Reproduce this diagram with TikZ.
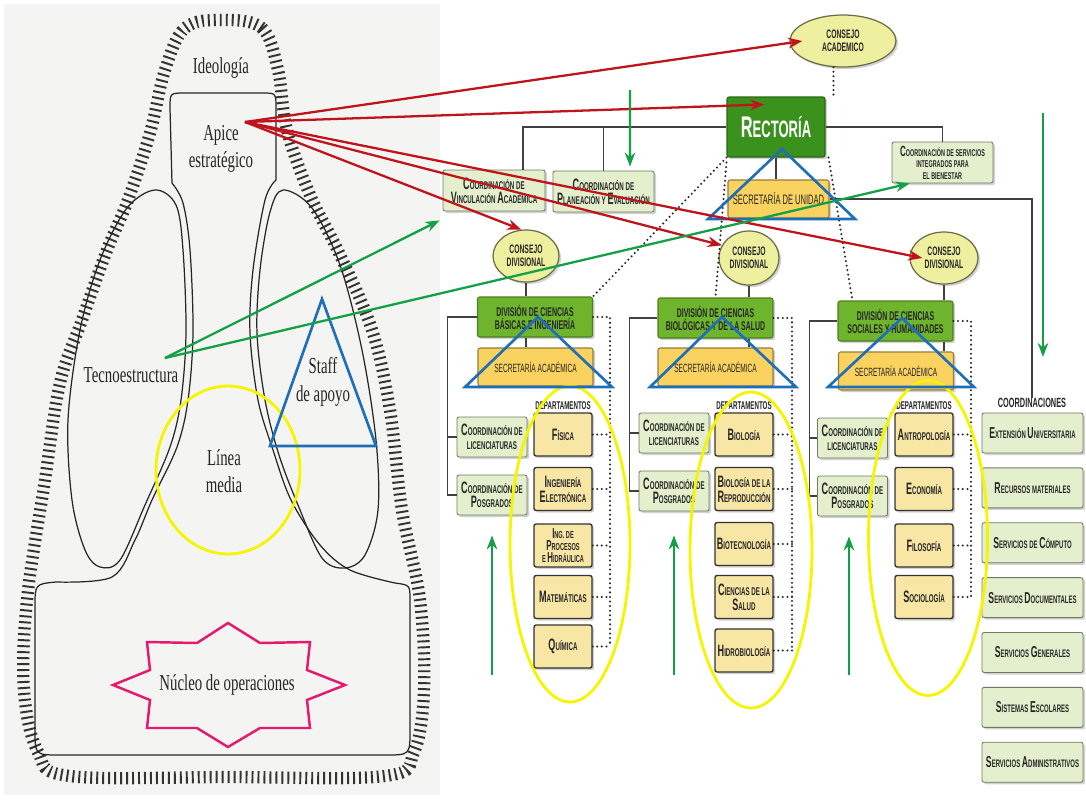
\documentclass[tikz,border=0pt]{standalone}
\usepackage{fontspec}
\usepackage{tikz}
\usetikzlibrary{shapes.geometric, arrows.meta, positioning, calc, shadows}
\newfontfamily\mintz[FakeStretch=0.65]{Liberation Serif}
\newfontfamily\orgfont[FakeStretch=0.55]{Liberation Sans}
\definecolor{rectVerde}{RGB}{58,146,28}
\definecolor{divVerde}{RGB}{110,180,45}
\definecolor{secOro}{RGB}{250,210,95}
\definecolor{coordPalido}{RGB}{228,240,205}
\definecolor{deptCrema}{RGB}{248,230,165}
\definecolor{consejoAm}{RGB}{238,240,160}
\definecolor{flechaRoja}{RGB}{192,20,28}
\definecolor{flechaVerde}{RGB}{20,160,70}
\definecolor{azulTri}{RGB}{30,110,185}
\definecolor{amarilloOv}{RGB}{245,245,0}
\definecolor{rosaEstrella}{RGB}{230,25,110}
\definecolor{fondoEscaneo}{RGB}{244,244,242}
\newcommand{\inicial}[2][9.4]{{\fontsize{#1}{#1}\selectfont #2}}

\begin{document}
\begin{tikzpicture}[x=0.02cm, y=-0.02cm,
        mline/.style={draw=black!85, line width=0.7pt},
        hatch/.style={draw=black!80, line width=7pt, dash pattern=on 1.1pt off 2.3pt},
        mtext/.style={font=\mintz\fontsize{13}{15.5}\selectfont, text=black!85, align=center, inner sep=0pt},
        orgbox/.style={rectangle, rounded corners=1.2pt, align=center, inner sep=0.5pt, text=black!85,
            drop shadow={shadow xshift=1.2pt, shadow yshift=-1.2pt, opacity=0.35},
            font=\orgfont\bfseries\fontsize{6.4}{7.8}\selectfont},
        verdebox/.style={orgbox, fill=divVerde, draw=divVerde!70!black, line width=0.6pt, minimum width=2.3cm, minimum height=0.8cm,
            font=\orgfont\bfseries\fontsize{7.2}{7.4}\selectfont},
        orobox/.style={orgbox, fill=secOro, draw=secOro!60!black, line width=0.6pt, minimum width=2.3cm, minimum height=0.76cm,
            font=\orgfont\fontsize{6.8}{7}\selectfont},
        palebox/.style={orgbox, fill=coordPalido, draw=coordPalido!50!black, line width=0.5pt},
        coordbox/.style={palebox, minimum width=1.4cm, minimum height=0.8cm},
        servbox/.style={palebox, minimum width=2.02cm, minimum height=0.8cm, font=\orgfont\bfseries\fontsize{6.2}{7}\selectfont},
        depbox/.style={orgbox, fill=deptCrema, draw=black!80, line width=0.8pt, minimum width=1.16cm, minimum height=0.86cm,
            font=\orgfont\bfseries\fontsize{6.4}{8.4}\selectfont},
        consejo/.style={ellipse, fill=consejoAm, draw=consejoAm!45!black, line width=0.7pt, align=center, inner sep=0pt, text=black!85,
            drop shadow={shadow xshift=1.2pt, shadow yshift=-1.2pt, opacity=0.35},
            font=\orgfont\bfseries\fontsize{7}{7.6}\selectfont},
        etiqueta/.style={font=\orgfont\bfseries\fontsize{6.4}{6.4}\selectfont, text=black!85, inner sep=0pt},
        enlace/.style={draw=black!75, line width=0.6pt},
        punteado/.style={draw=black!85, line width=1.3pt, line cap=round, dash pattern=on 0pt off 2.6pt},
        rojo/.style={draw=flechaRoja, line width=1.3pt, -{Stealth[length=8pt, width=6pt]}},
        verde/.style={draw=flechaVerde, line width=1.3pt, -{Stealth[length=8pt, width=6pt]}},
        triangulo/.style={draw=azulTri, line width=1.5pt, line join=miter},
        ovalo/.style={draw=amarilloOv, line width=1.6pt}]
    \useasboundingbox (0,0) rectangle (1086,799);
    \fill[white] (0,0) rectangle (1086,799);
    \fill[fondoEscaneo] (4,4) rectangle (440,795);

    % Mintzberg: the five parts
    \draw[hatch] plot[smooth cycle, tension=0.6] coordinates {(222,20) (262,28) (278,70) (287,130) (310,195) (340,255)
        (372,330) (390,410) (402,510) (420,600) (424,690) (414,752) (385,776) (228,777) (70,776) (38,752) (24,690)
        (27,600) (45,480) (60,383) (82,320) (107,250) (128,200) (150,133) (165,70) (185,28)};
    \draw[mline] plot[smooth, tension=0.55] coordinates {(56,582) (112,577) (135,540) (152,500) (177,447) (188,400)
            (193,333) (190,250) (183,203) (172,183)}
        -- (170,108) .. controls (170,93) .. (185,93) -- (262,93) .. controls (276,93) .. (276,108) -- (276,180)
        -- plot[smooth, tension=0.55] coordinates {(276,180) (265,200) (253,270) (250,333) (258,400) (273,450)
            (291,500) (320,545) (350,570) (395,583)}
        .. controls (410,585) .. (410,600) -- (410,730) .. controls (410,755) .. (385,755) -- (60,755)
        .. controls (35,755) .. (35,730) -- (35,607) .. controls (35,584) .. (56,582) -- cycle;
    \draw[mline] plot[smooth cycle, tension=0.55] coordinates {(155,190) (127,208) (100,260) (80,330) (68,420)
        (72,500) (85,550) (100,567) (120,560) (145,505) (170,447) (181,400) (186,333) (183,250) (176,205)};
    \draw[mline] plot[smooth cycle, tension=0.55] coordinates {(283,190) (312,208) (340,265) (362,350) (376,440)
        (378,510) (365,555) (345,568) (322,558) (298,505) (279,455) (265,400) (257,333) (260,270) (270,212)};
    \draw[draw=rosaEstrella, line width=1.4pt] (228,623) -- (260,643) -- (310,642) -- (307,670) -- (345,685)
        -- (307,700) -- (310,728) -- (260,728) -- (228,747) -- (197,728) -- (147,728) -- (150,700)
        -- (113,685) -- (150,670) -- (147,642) -- (197,643) -- cycle;

    \node[mtext] (ideo) at (221,68) {Ideología};
    \node[mtext] (apex) at (221,149) {Apice\\estratégico};
    \node[mtext] (tec) at (131,375) {Tecnoestructura};
    \node[mtext] (staff) at (323,382) {Staff\\de apoyo};
    \node[mtext] (linea) at (224,471) {Línea\\media};
    \node[mtext] (nucleo) at (227,685) {Núcleo de operaciones};

    % organigrama
    \node[consejo, minimum width=2.12cm, minimum height=1.04cm] (ca) at (843,41) {CONSEJO\\ACADEMICO};
    \node[orgbox, fill=rectVerde, draw=rectVerde!70!black, line width=0.6pt, minimum width=1.96cm, minimum height=1.2cm,
        text=white, font=\orgfont\bfseries\fontsize{13.5}{14}\selectfont] (rect) at (776,127) {\inicial[17]{R}ECTORÍA};
    \node[orobox, minimum width=2.02cm, font=\orgfont\fontsize{7.8}{8}\selectfont] (su) at (778.5,199) {SECRETARÍA DE UNIDAD};
    \node[palebox, minimum width=2.02cm, minimum height=0.82cm, font=\orgfont\bfseries\fontsize{5.6}{6.6}\selectfont]
        (bien) at (942.5,162.5) {\inicial[8.4]{C}OORDINACIÓN DE SERVICIOS\\INTEGRADOS PARA\\EL BIENESTAR};
    \node[palebox, minimum width=2.04cm, minimum height=0.82cm] (vinc) at (494,190.5)
        {\inicial{C}OORDINACIÓN DE\\\inicial{V}INCULACIÓN \inicial{A}CADÉMICA};
    \node[palebox, minimum width=2.02cm, minimum height=0.82cm] (plan) at (603.5,191.5)
        {\inicial{C}OORDINACIÓN DE\\\inicial{P}LANEACIÓN Y \inicial{E}VALUACIÓN};

    \node[consejo, minimum width=1.32cm, minimum height=1.04cm] (cd1) at (526,256) {CONSEJO\\DIVISIONAL};
    \node[consejo, minimum width=1.2cm, minimum height=1.08cm] (cd2) at (749,258) {CONSEJO\\DIVISIONAL};
    \node[consejo, minimum width=1.36cm, minimum height=1.04cm] (cd3) at (944,258) {CONSEJO\\DIVISIONAL};

    \node[verdebox] (div1) at (535,317) {DIVISIÓN DE CIENCIAS\\BÁSICAS E INGENIERÍA};
    \node[verdebox] (div2) at (715.5,318) {DIVISIÓN DE CIENCIAS\\BIOLÓGICAS Y DE LA SALUD};
    \node[verdebox] (div3) at (895.5,321) {DIVISIÓN DE CIENCIAS\\SOCIALES Y HUMANIDADES};
    \node[orobox] (sa1) at (535.5,367) {SECRETARÍA ACADÉMICA};
    \node[orobox] (sa2) at (715.5,367) {SECRETARÍA ACADÉMICA};
    \node[orobox] (sa3) at (896,371) {SECRETARÍA ACADÉMICA};

    \node[coordbox] (lic1) at (492,437) {\inicial{C}OORDINACIÓN DE\\LICENCIATURAS};
    \node[coordbox] (pos1) at (492,495) {\inicial{C}OORDINACIÓN DE\\\inicial{P}OSGRADOS};
    \node[coordbox] (lic2) at (674,433) {\inicial{C}OORDINACIÓN DE\\LICENCIATURAS};
    \node[coordbox] (pos2) at (674,491) {\inicial{C}OORDINACIÓN DE\\\inicial{P}OSGRADOS};
    \node[coordbox] (lic3) at (852.5,438) {\inicial{C}OORDINACIÓN DE\\LICENCIATURAS};
    \node[coordbox] (pos3) at (852.5,496) {\inicial{C}OORDINACIÓN DE\\\inicial{P}OSGRADOS};

    \node[etiqueta] (dl1) at (563,406) {DEPARTAMENTOS};
    \node[etiqueta] (dl2) at (744,406) {DEPARTAMENTOS};
    \node[etiqueta] (dl3) at (924,406) {DEPARTAMENTOS};
    \node[depbox] (fis) at (563,434.5) {\inicial{F}ÍSICA};
    \node[depbox] (ing) at (563,489) {\inicial{I}NGENIERÍA\\\inicial{E}LECTRÓNICA};
    \node[depbox, font=\orgfont\bfseries\fontsize{5.8}{6.9}\selectfont] (proc) at (563,545.5)
        {\inicial[8.2]{I}NG. DE\\\inicial[8.2]{P}ROCESOS\\E \inicial[8.2]{H}IDRÁULICA};
    \node[depbox] (mat) at (563,597) {\inicial{M}ATEMÁTICAS};
    \node[depbox] (qui) at (563,646.5) {\inicial{Q}UÍMICA};
    \node[depbox] (bio) at (744,434.5) {\inicial{B}IOLOGÍA};
    \node[depbox] (rep) at (744,489) {\inicial{B}IOLOGÍA DE LA\\\inicial{R}EPRODUCCIÓN};
    \node[depbox] (biot) at (744,544) {\inicial{B}IOTECNOLOGÍA};
    \node[depbox] (salud) at (744,597) {\inicial{C}IENCIAS DE LA\\\inicial{S}ALUD};
    \node[depbox] (hidro) at (744,650.5) {\inicial{H}IDROBIOLOGÍA};
    \node[depbox] (antro) at (924,434.5) {\inicial{A}NTROPOLOGÍA};
    \node[depbox] (eco) at (924,489) {\inicial{E}CONOMÍA};
    \node[depbox] (filo) at (924,545.5) {\inicial{F}ILOSOFÍA};
    \node[depbox] (socio) at (924,597) {\inicial{S}OCIOLOGÍA};

    \node[etiqueta, font=\orgfont\bfseries\fontsize{7.6}{7.6}\selectfont] (clab) at (1032,403) {COORDINACIONES};
    \node[servbox] (ext) at (1032.5,433) {\inicial[9]{E}XTENSIÓN \inicial[9]{U}NIVERSITARIA};
    \node[servbox, below=0.28cm of ext] (recm) {\inicial[9]{R}ECURSOS MATERIALES};
    \node[servbox, below=0.28cm of recm] (comp) {\inicial[9]{S}ERVICIOS DE \inicial[9]{C}ÓMPUTO};
    \node[servbox, below=0.28cm of comp] (docu) {\inicial[9]{S}ERVICIOS \inicial[9]{D}OCUMENTALES};
    \node[servbox, below=0.28cm of docu] (gene) {\inicial[9]{S}ERVICIOS \inicial[9]{G}ENERALES};
    \node[servbox, below=0.28cm of gene] (esco) {\inicial[9]{S}ISTEMAS \inicial[9]{E}SCOLARES};
    \node[servbox, below=0.28cm of esco] (admi) {\inicial[9]{S}ERVICIOS \inicial[9]{A}DMINISTRATIVOS};

    % lineas del organigrama
    \draw[enlace] (rect.west) -| ([xshift=0.58cm]vinc.north);
    \draw[enlace] (plan.north) |- (rect.west);
    \draw[enlace] (rect.east) -| (bien.north);
    \draw[enlace] (rect.south) -- (rect.south |- su.north);
    \draw[enlace] (su.east) -| (clab.north);
    \draw[enlace] (cd1.south) -- (cd1.south |- div1.north);
    \draw[enlace] (cd1.south |- div1.south) -- (cd1.south |- sa1.north);
    \draw[enlace] (cd2.south) -- (cd2.south |- div2.north);
    \draw[enlace] (cd2.south |- div2.south) -- (cd2.south |- sa2.north);
    \draw[enlace] (cd3.south) -- (cd3.south |- div3.north);
    \draw[enlace] (cd3.south |- div3.south) -- (cd3.south |- sa3.north);
    \draw[enlace] (div1.west) -| ([xshift=-0.18cm]pos1.west) -- (pos1.west);
    \draw[enlace] ([xshift=-0.18cm]lic1.west) -- (lic1.west);
    \draw[enlace] (div2.west) -| ([xshift=-0.18cm]pos2.west) -- (pos2.west);
    \draw[enlace] ([xshift=-0.18cm]lic2.west) -- (lic2.west);
    \draw[enlace] (div3.west) -| ([xshift=-0.16cm]pos3.west) -- (pos3.west);
    \draw[enlace] ([xshift=-0.16cm]lic3.west) -- (lic3.west);

    % lineas punteadas
    \coordinate (pt1) at (610,0);
    \coordinate (pt2) at (792,0);
    \coordinate (pt3) at (971,0);
    \draw[punteado] (ca.250) -- (ca.250 |- rect.north);
    \draw[punteado] (rect.south west) -- (div1.north east);
    \draw[punteado] ([yshift=-0.1cm]rect.south west) -- (div2.north);
    \draw[punteado] ([xshift=0.06cm]rect.south east) -- ([xshift=0.3cm]div3.north west);
    \draw[punteado] (div1.east) -- (div1.east -| pt1) -- (qui.east -| pt1);
    \draw[punteado] (fis.east) -- (fis.east -| pt1);
    \draw[punteado] (ing.east) -- (ing.east -| pt1);
    \draw[punteado] (proc.east) -- (proc.east -| pt1);
    \draw[punteado] (mat.east) -- (mat.east -| pt1);
    \draw[punteado] (qui.east) -- (qui.east -| pt1);
    \draw[punteado] (div2.east) -- (div2.east -| pt2) -- (hidro.east -| pt2);
    \draw[punteado] (bio.east) -- (bio.east -| pt2);
    \draw[punteado] (rep.east) -- (rep.east -| pt2);
    \draw[punteado] (biot.east) -- (biot.east -| pt2);
    \draw[punteado] (salud.east) -- (salud.east -| pt2);
    \draw[punteado] (hidro.east) -- (hidro.east -| pt2);
    \draw[punteado] (div3.east) -- (div3.east -| pt3) -- (socio.east -| pt3);
    \draw[punteado] (antro.east) -- (antro.east -| pt3);
    \draw[punteado] (eco.east) -- (eco.east -| pt3);
    \draw[punteado] (filo.east) -- (filo.east -| pt3);
    \draw[punteado] (socio.east) -- (socio.east -| pt3);

    % marcas de color
    \draw[ovalo] (228,470) ellipse[x radius=1.44cm, y radius=1.68cm];
    \draw[ovalo] (570,544) ellipse[x radius=1.2cm, y radius=3.16cm];
    \draw[ovalo] (751,550) ellipse[x radius=1.22cm, y radius=3.16cm];
    \draw[ovalo] (928,538) ellipse[x radius=1.19cm, y radius=3.15cm];
    \draw[triangulo] (322,299) -- (376,446) -- (270,446) -- cycle;
    \draw[triangulo] (782,149) -- (855,219) -- (708,219) -- cycle;
    \draw[triangulo] (538,317) -- (612,387) -- (465,387) -- cycle;
    \draw[triangulo] (722,317) -- (796,387) -- (650,387) -- cycle;
    \draw[triangulo] (902,318) -- (974,387) -- (828,387) -- cycle;

    \coordinate (apice) at (245,122);
    \draw[rojo] (apice) -- ([xshift=0.26cm]ca.west);
    \draw[rojo] (apice) -- ([xshift=0.76cm, yshift=-0.16cm]rect.north west);
    \draw[rojo] (apice) -- (cd1.100);
    \draw[rojo] (apice) -- (cd2.155);
    \draw[rojo] (apice) -- ([xshift=0.26cm]cd3.west);

    \coordinate (tecno) at (165,358);
    \coordinate (bajada) at (630,90);
    \coordinate (servA) at (1043,113);
    \coordinate (servB) at (1043,357);
    \draw[verde] (tecno) -- ([xshift=-0.06cm, yshift=-0.18cm]vinc.south west);
    \draw[verde] (tecno) -- ([xshift=0.36cm]bien.south west);
    \draw[verde] (bajada) -- ([xshift=0.53cm, yshift=0.08cm]plan.north);
    \draw[verde] (servA) -- (servB);
    \draw[verde] ([yshift=-3.2cm]pos1.south) -- ([yshift=-0.4cm]pos1.south);
    \draw[verde] ([yshift=-3.28cm]pos2.south) -- ([yshift=-0.48cm]pos2.south);
    \draw[verde] ([yshift=-3.18cm, xshift=-0.07cm]pos3.south) -- ([yshift=-0.4cm, xshift=-0.07cm]pos3.south);
\end{tikzpicture}
\end{document}
